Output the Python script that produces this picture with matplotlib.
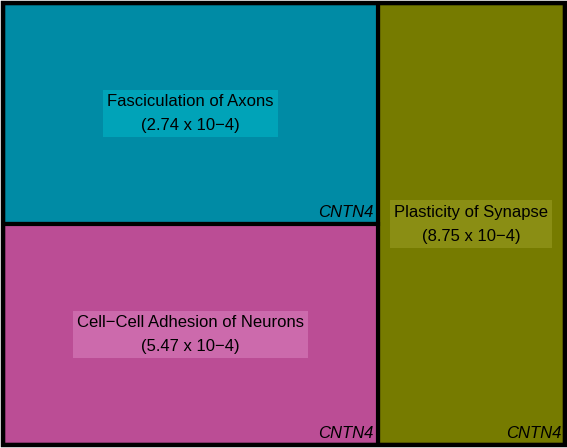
import matplotlib.pyplot as plt
from matplotlib.patches import Rectangle

plt.rcParams['font.family'] = ['Liberation Sans', 'DejaVu Sans']

# treemap data: one gene per term, so equal sizes
terms = ['Plasticity of Synapse', 'Fasciculation of Axons', 'Cell\u2212Cell Adhesion of Neurons']
pvals = ['8.75 x 10\u22124', '2.74 x 10\u22124', '5.47 x 10\u22124']
genes = ['CNTN4', 'CNTN4', 'CNTN4']
sizes = [1, 1, 1]
colors = ['#767b00', '#008ba5', '#bb4d95']
label_bg = ['#8a8e14', '#00a3b8', '#cc6aac']

W, H = 562.0, 442.0
total = float(sum(sizes))

# first term takes a full-height column on the right, the rest stacked on the left
rects = []
w0 = W * sizes[0] / total
rects.append((W - w0, 0, w0, H))
left_w = W - w0
rest = sum(sizes[1:])
y = 0
for s in sizes[1:]:
    h = H * s / rest
    rects.append((0, y, left_w, h))
    y += h

fig = plt.figure(figsize=(5.67, 4.48), dpi=100)
ax = fig.add_axes([3 / 567, 3 / 448, 562 / 567, 442 / 448])
ax.set_xlim(0, W)
ax.set_ylim(H, 0)
ax.axis('off')

for (x0, y0, w, h), c, bg, t, p, g in zip(rects, colors, label_bg, terms, pvals, genes):
    ax.add_patch(Rectangle((x0, y0), w, h, facecolor=c, edgecolor='black', linewidth=3, zorder=1))
    ax.text(x0 + w / 2, y0 + h / 2, t + '\n(' + p + ')', ha='center', va='center',
            fontsize=12, linespacing=1.75, color='black', zorder=3,
            bbox=dict(boxstyle='square,pad=0.25', facecolor=bg, edgecolor='none'))
    ax.text(x0 + w - 4, y0 + h - 4, g, ha='right', va='bottom', fontsize=12,
            style='italic', color='black', zorder=3)

ax.add_patch(Rectangle((0, 0), W, H, facecolor='none', edgecolor='black', linewidth=3.2,
                       zorder=4, clip_on=False))

fig.savefig('out.png', dpi=100)
